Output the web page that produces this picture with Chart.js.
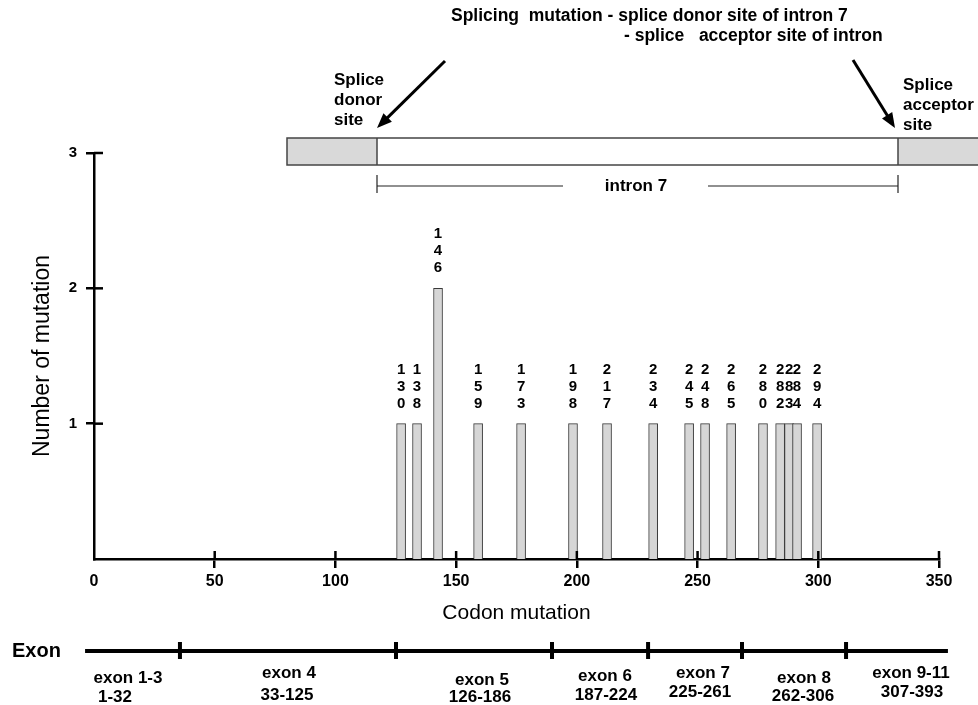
<!DOCTYPE html>
<html>
<head>
<meta charset="utf-8">
<script src="https://cdn.jsdelivr.net/npm/chart.js@4.4.0/dist/chart.umd.min.js"></script>
<style>
  html, body { margin: 0; padding: 0; background: #fff; }
  #wrap { width: 978px; height: 705px; }
</style>
</head>
<body>
<div id="wrap"><canvas id="mutChart" width="978" height="705"></canvas></div>
<script>
// codon written above each bar
const codonLabels = ['130', '138', '146', '159', '173', '198', '217', '234', '245', '248', '265', '280', '282', '283', '284', '294'];
// where each bar stands on the codon axis
const barCodon = [127.2, 133.8, 142.5, 159.1, 176.9, 198.4, 212.5, 231.6, 246.5, 253.1, 263.9, 277.1, 284.2, 287.9, 291.2, 299.5];
const mutationCount = [1, 1, 2, 1, 1, 1, 1, 1, 1, 1, 1, 1, 1, 1, 1, 1];
const xTicks = [0, 50, 100, 150, 200, 250, 300, 350];
const yTicks = [1, 2, 3];

// exon strip under the axis
const exonNames = ['exon 1-3', 'exon 4', 'exon 5', 'exon 6', 'exon 7', 'exon 8', 'exon 9-11'];
const exonRanges = ['1-32', '33-125', '126-186', '187-224', '225-261', '262-306', '307-393'];
const exonBorders = [35.6, 125.1, 189.7, 229.5, 268.4, 311.5];
const exonSpan = [-3.7, 353.7];

const FONT = '"Liberation Sans", Arial, sans-serif';

// label placement for the exon strip (px)
const exonNameX = [128, 289, 482, 605, 703, 804, 911];
const exonNameY = [678, 673, 680, 676, 673, 678, 673];
const exonRangeX = [115, 287, 480, 606, 700, 803, 912];
const exonRangeY = [697, 695, 697, 695, 692, 696, 692];

function line(ctx, x1, y1, x2, y2) {
  ctx.beginPath(); ctx.moveTo(x1, y1); ctx.lineTo(x2, y2); ctx.stroke();
}

function text(ctx, s, x, y, size, align, bold, base) {
  ctx.font = (bold ? 'bold ' : '') + size + 'px ' + FONT;
  ctx.textAlign = align || 'center';
  ctx.textBaseline = base || 'middle';
  ctx.fillText(s, x, y);
}

function arrow(ctx, x1, y1, x2, y2) {
  const a = Math.atan2(y2 - y1, x2 - x1), L = 15, W = 6;
  const c = Math.cos(a), s = Math.sin(a);
  ctx.lineWidth = 3;
  line(ctx, x1, y1, x2 - c * L * 0.8, y2 - s * L * 0.8);
  ctx.beginPath();
  ctx.moveTo(x2, y2);
  ctx.lineTo(x2 - L * c + W * s, y2 - L * s - W * c);
  ctx.lineTo(x2 - L * c - W * s, y2 - L * s + W * c);
  ctx.closePath();
  ctx.fill();
}

const extras = {
  id: 'extras',
  afterDraw(chart) {
    const ctx = chart.ctx;
    const xs = chart.scales.x, ys = chart.scales.y, area = chart.chartArea;
    ctx.save();
    ctx.strokeStyle = '#000';
    ctx.fillStyle = '#000';

    // tick marks cross the axis lines
    ctx.lineWidth = 2.5;
    xTicks.forEach(v => {
      if (v === 0) return;
      const px = xs.getPixelForValue(v);
      line(ctx, px, area.bottom, px, area.bottom - 8);
    });
    yTicks.forEach(v => {
      const py = ys.getPixelForValue(v);
      line(ctx, area.left, py, area.left + 9, py);
    });

    // codon digits stacked above bars
    chart.getDatasetMeta(0).data.forEach((bar, i) => {
      const digits = codonLabels[i].split('');
      digits.forEach((d, k) => {
        text(ctx, d, bar.x, bar.y - 20 - (digits.length - 1 - k) * 17, 15, 'center', true);
      });
    });

    // intron 7 sketch at the top
    const top = 138, h = 27, boxL = 287, donor = 377, acceptor = 898, boxR = 980;
    ctx.fillStyle = '#d9d9d9';
    ctx.fillRect(boxL, top, donor - boxL, h);
    ctx.fillRect(acceptor, top, boxR - acceptor, h);
    ctx.fillStyle = '#fff';
    ctx.fillRect(donor, top, acceptor - donor, h);
    ctx.strokeStyle = '#444';
    ctx.lineWidth = 1.5;
    ctx.strokeRect(boxL, top, boxR - boxL, h);
    line(ctx, donor, top, donor, top + h);
    line(ctx, acceptor, top, acceptor, top + h);

    ctx.strokeStyle = '#222';
    ctx.lineWidth = 1.2;
    line(ctx, donor, 186, 563, 186);
    line(ctx, 708, 186, acceptor, 186);
    line(ctx, donor, 175, donor, 193);
    line(ctx, acceptor, 175, acceptor, 193);
    ctx.fillStyle = '#000';
    text(ctx, 'intron 7', 636, 186, 17, 'center', true);

    text(ctx, 'Splicing  mutation - splice donor site of intron 7', 451, 21, 17.5, 'left', true, 'alphabetic');
    text(ctx, '- splice   acceptor site of intron', 624, 41, 17.5, 'left', true, 'alphabetic');
    ['Splice', 'donor', 'site'].forEach((s, i) => text(ctx, s, 334, 85 + i * 20, 17, 'left', true, 'alphabetic'));
    ['Splice', 'acceptor', 'site'].forEach((s, i) => text(ctx, s, 903, 90 + i * 20, 17, 'left', true, 'alphabetic'));

    ctx.strokeStyle = '#000';
    arrow(ctx, 445, 61, 377, 128);
    arrow(ctx, 853, 60, 895, 128);

    // exon strip
    const ey = 651;
    ctx.lineWidth = 4;
    line(ctx, xs.getPixelForValue(exonSpan[0]), ey, xs.getPixelForValue(exonSpan[1]), ey);
    exonBorders.forEach(v => {
      const px = xs.getPixelForValue(v);
      line(ctx, px, ey - 9, px, ey + 8);
    });
    text(ctx, 'Exon', 12, ey, 20, 'left', true);
    exonNames.forEach((s, i) => {
      text(ctx, s, exonNameX[i], exonNameY[i], 17, 'center', true);
      text(ctx, exonRanges[i], exonRangeX[i], exonRangeY[i], 17, 'center', true);
    });
    ctx.restore();
  }
};

new Chart(document.getElementById('mutChart'), {
  type: 'bar',
  data: {
    datasets: [{
      data: barCodon.map((x, i) => ({ x: x, y: mutationCount[i] })),
      backgroundColor: '#d6d6d6',
      borderColor: '#3a3a3a',
      borderWidth: 1,
      barThickness: 9
    }]
  },
  options: {
    responsive: false,
    animation: false,
    devicePixelRatio: 1,
    layout: { padding: { top: 153, right: 39, bottom: 0, left: 0 } },
    plugins: { legend: { display: false }, tooltip: { enabled: false } },
    scales: {
      x: {
        type: 'linear', min: 0, max: 350, offset: false,
        afterBuildTicks: s => { s.ticks = xTicks.map(v => ({ value: v })); },
        afterFit: s => { s.height = 146; },
        grid: {
          offset: false, drawOnChartArea: false, tickLength: 9, lineWidth: 2.5,
          color: c => (c.tick && c.tick.value === 0) ? 'rgba(0,0,0,0)' : '#000'
        },
        border: { color: '#000', width: 2.5 },
        ticks: { color: '#000', padding: 4, maxRotation: 0, autoSkip: false, font: { family: FONT, size: 16, weight: 'bold' } },
        title: { display: true, text: 'Codon mutation', color: '#000', font: { family: FONT, size: 21 }, padding: { top: 0, bottom: 79 } }
      },
      y: {
        min: 0, max: 3,
        afterBuildTicks: s => { s.ticks = yTicks.map(v => ({ value: v })); },
        afterFit: s => { s.width = 94; },
        grid: { drawOnChartArea: false, tickLength: 8, lineWidth: 2.5, color: '#000' },
        border: { color: '#000', width: 2.5 },
        ticks: { color: '#000', padding: 9, font: { family: FONT, size: 15, weight: 'bold' } },
        title: { display: true, text: 'Number of mutation', color: '#000', font: { family: FONT, size: 23 }, padding: { top: 29, bottom: 0 } }
      }
    }
  },
  plugins: [extras]
});
</script>
</body>
</html>
